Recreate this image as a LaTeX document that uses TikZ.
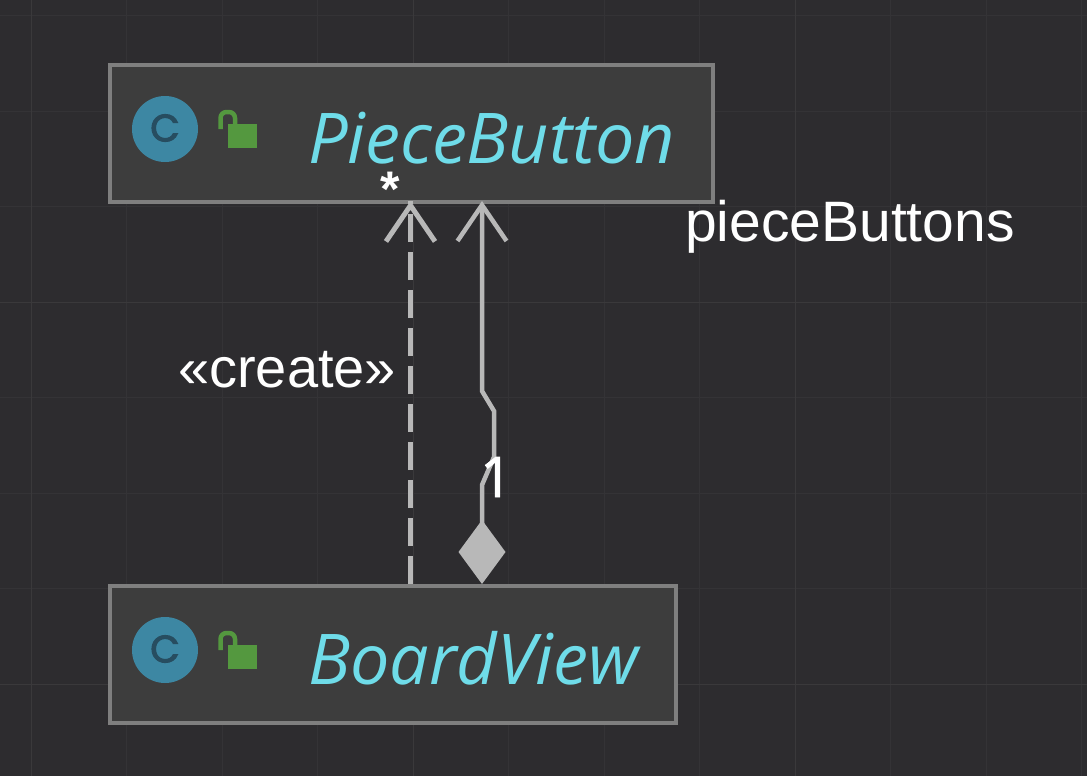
\documentclass[tikz,border=0pt]{standalone}
\usepackage{fontspec}
\usepackage{xcolor}
\usetikzlibrary{arrows.meta}
\setmainfont{Liberation Sans}
\newfontfamily\classfont{Open Sans}
\newfontfamily\onefont[FakeBold=1.5]{Open Sans}
\newfontfamily\iconfont[FakeBold=3]{Poppins}
\definecolor{canvas}{HTML}{2D2C2F}
\definecolor{gridminor}{HTML}{343336}
\definecolor{gridmajor}{HTML}{3A393B}
\definecolor{boxfill}{HTML}{3D3D3D}
\definecolor{boxline}{HTML}{7F7F7F}
\definecolor{iconblue}{HTML}{3D87A3}
\definecolor{icondark}{HTML}{274D60}
\definecolor{lockgreen}{HTML}{54983F}
\definecolor{classcyan}{HTML}{6FDCE9}
\definecolor{wire}{HTML}{B8B8B8}
\tikzset{
    classbox/.style={draw=boxline, fill=boxfill, line width=4pt, rectangle, inner sep=0pt, anchor=north west},
    classname/.style={text=classcyan, font=\classfont\itshape\fontsize{70}{70}\selectfont, anchor=base west, inner sep=0pt},
    iconletter/.style={text=icondark, font=\iconfont\fontsize{38}{38}\selectfont, inner sep=0pt},
    wirelabel/.style={text=white, font=\fontsize{57}{57}\selectfont, anchor=base west, inner sep=0pt},
}
\begin{document}
\begin{tikzpicture}[x=1pt, y=-1pt]
\fill[canvas] (0,0) rectangle (1087,776);
\useasboundingbox (0,0) rectangle (1087,776);
\foreach \i in {0,1,...,11}{
    \draw[gridminor, line width=1pt] (31+95.5*\i, 0) -- (31+95.5*\i, 776);
}
\foreach \i in {0,1,...,7}{
    \draw[gridminor, line width=1pt] (0, 15.5+95.5*\i) -- (1087, 15.5+95.5*\i);
}
\foreach \i in {0,1,2}{
    \draw[gridmajor, line width=1pt] (31+382*\i, 0) -- (31+382*\i, 776);
}
\foreach \i in {0,1}{
    \draw[gridmajor, line width=1pt] (0, 302+382*\i) -- (1087, 302+382*\i);
}
\foreach \cls/\txt/\w/\y in {
    piecebutton/PieceButton/603/63, boardview/BoardView/566/584
}{
    \node[classbox, minimum width=\w pt, minimum height=137pt] (\cls) at (108, \y) {};
    \node[classname] (\cls name) at (308, \y+100) {\txt};
    \fill[iconblue] (165, \y+66) circle (33);
    \node[iconletter] (\cls icon) at (165, \y+65) {C};
    \fill[lockgreen] (228, \y+61) rectangle (257, \y+85);
    \draw[lockgreen, line width=4.5pt, rounded corners=6pt] (220.5, \y+66) |- (235, \y+49) -- (235, \y+61);
}
% create dependency
\draw[wire, line width=5pt, dash pattern=on 28.5pt off 9.5pt] ([xshift=302.5pt]boardview.north west) -- ([xshift=302.5pt, yshift=3pt]piecebutton.south west);
\draw[wire, line width=5pt, {Straight Barb[length=36pt, width=49pt]}-{}, dash pattern=on 0pt off 1000pt] ([xshift=302.5pt, yshift=3pt]piecebutton.south west) -- +(0, 40);
% composition
\draw[wire, line width=4.5pt, {Diamond[length=64pt, width=47pt, fill=wire]}-{Straight Barb[length=36pt, width=49pt]}]
    ([xshift=374pt]boardview.north west) -- ++(0, -99) -- ++(12, -28) -- ++(0, -46) -- ++(-12, -20) -- ([xshift=374pt, yshift=3pt]piecebutton.south west);
\node[wirelabel, font=\fontsize{56}{56}\selectfont] (createlabel) at (178, 387) {«create»};
\node[wirelabel] (rolelabel) at (685, 241) {pieceButtons};
\node[wirelabel, font=\bfseries\fontsize{50}{50}\selectfont] (manylabel) at (380, 206) {*};
\node[wirelabel, font=\onefont\fontsize{56}{56}\selectfont] (onelabel) at (480, 497) {1};
\end{tikzpicture}
\end{document}
